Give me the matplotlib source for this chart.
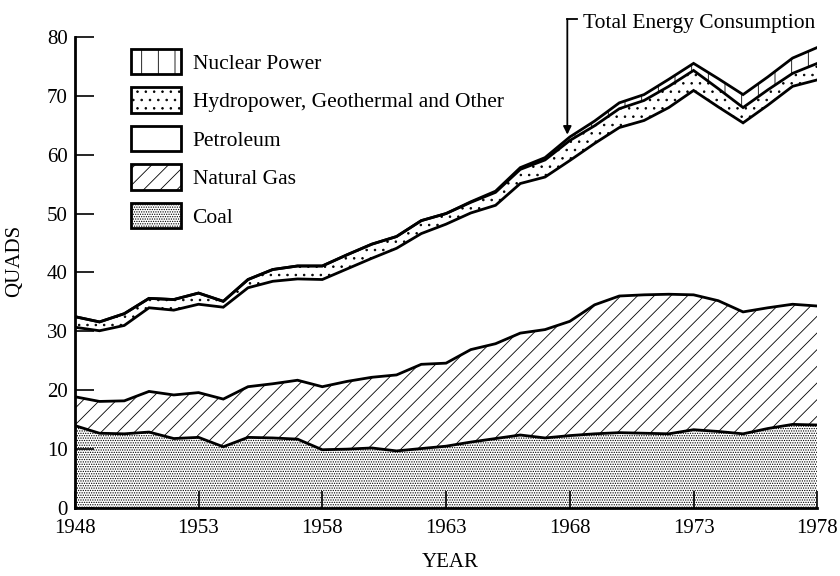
import numpy as np
import matplotlib
matplotlib.use("Agg")
import matplotlib.pyplot as plt
from matplotlib.patches import Patch

years = list(range(1948, 1979))
coal = [14.0, 12.7, 12.6, 12.9, 11.8, 12.0, 10.4, 12.0, 11.9, 11.7, 9.9, 10.0, 10.2, 9.7, 10.1,
        10.5, 11.2, 11.8, 12.4, 11.9, 12.3, 12.6, 12.8, 12.7, 12.6, 13.3, 13.0, 12.6, 13.5, 14.2, 14.1]
natural_gas = [4.9, 5.4, 5.6, 6.9, 7.4, 7.6, 8.1, 8.6, 9.2, 10.0, 10.7, 11.5, 12.0, 12.9, 14.3,
               14.1, 15.7, 16.1, 17.3, 18.4, 19.4, 21.9, 23.2, 23.5, 23.7, 22.9, 22.2, 20.7, 20.5, 20.4, 20.2]
petroleum = [11.8, 12.0, 12.8, 14.2, 14.4, 15.0, 15.6, 16.8, 17.4, 17.2, 18.2, 19.1, 20.2, 21.5, 22.2,
             23.6, 23.2, 23.5, 25.4, 25.9, 27.3, 27.4, 28.6, 29.6, 31.7, 34.7, 32.9, 32.1, 34.4, 37.0, 38.4]
hydro_other = [1.8, 1.5, 2.0, 1.6, 1.8, 1.9, 1.0, 1.4, 2.0, 2.2, 2.3, 2.4, 2.4, 2.0, 2.2,
               1.8, 1.8, 2.2, 2.4, 2.9, 3.4, 3.0, 3.2, 3.4, 3.6, 3.4, 3.1, 2.6, 2.6, 2.2, 2.8]
nuclear = [0.0, 0.0, 0.0, 0.0, 0.0, 0.0, 0.0, 0.0, 0.0, 0.0, 0.0, 0.0, 0.0, 0.0, 0.0,
           0.0, 0.1, 0.2, 0.3, 0.4, 0.6, 0.8, 1.0, 1.0, 1.2, 1.2, 1.7, 2.2, 2.2, 2.6, 2.7]

labels = ["Coal", "Natural Gas", "Petroleum", "Hydropower, Geothermal and Other", "Nuclear Power"]
hatches = [".......", "//", "", "..", "|"]
x_ticks = [1948, 1953, 1958, 1963, 1968, 1973, 1978]
y_ticks = [0, 10, 20, 30, 40, 50, 60, 70, 80]

plt.rcParams['font.family'] = ['Liberation Serif', 'DejaVu Serif']
plt.rcParams['hatch.linewidth'] = 0.6
plt.rcParams['hatch.color'] = 'black'

fig = plt.figure(figsize=(8.4, 5.76), dpi=100)
ax = fig.add_axes([0.089, 0.118, 0.884, 0.818])

series = [coal, natural_gas, petroleum, hydro_other, nuclear]
stack = np.cumsum(np.array(series, dtype=float), axis=0)
yrs = np.array(years)
base = np.zeros(len(years))
for i, top in enumerate(stack):
    ax.fill_between(yrs, base, top, facecolor='white', edgecolor='black',
                    hatch=hatches[i], linewidth=0)
    base = top
for top in stack:
    ax.plot(yrs, top, color='black', lw=2.0, solid_joinstyle='miter')

ax.set_xlim(1948, 1978)
ax.set_ylim(0, 80)
ax.set_xticks(x_ticks)
ax.set_yticks(y_ticks)
ax.tick_params(axis='both', direction='in', length=14, width=1.2, labelsize=15)
ax.tick_params(axis='y', pad=5)
ax.tick_params(axis='x', length=12, pad=8)
for s in ['top', 'right']:
    ax.spines[s].set_visible(False)
for s in ['left', 'bottom']:
    ax.spines[s].set_linewidth(2.0)
ax.set_xlabel("YEAR", fontsize=15)
ax.xaxis.set_label_coords(0.505, -0.095)
ax.set_ylabel("QUADS", fontsize=15)
ax.yaxis.set_label_coords(-0.068, 0.525)

handles = [Patch(facecolor='white', edgecolor='black', hatch=hatches[i], linewidth=2, label=labels[i])
           for i in range(4, -1, -1)]
ax.legend(handles=handles, loc='upper left', bbox_to_anchor=(0.06, 1.0), frameon=False,
          fontsize=15.5, handlelength=2.3, handleheight=1.45, labelspacing=0.6, handletextpad=0.55,
          borderaxespad=0.15)

ax.annotate('', xy=(1967.9, 63.4), xytext=(1967.9, 83.0),
            arrowprops=dict(arrowstyle='-|>', lw=1.3, color='black', mutation_scale=12,
                            shrinkA=0, shrinkB=0), annotation_clip=False)
ax.plot([1967.9, 1968.3], [83.0, 83.0], color='black', lw=1.3, clip_on=False)
ax.text(1968.55, 82.2, "Total Energy Consumption", fontsize=15.5, va='center', ha='left',
        clip_on=False)

fig.savefig("out.png", dpi=100)
